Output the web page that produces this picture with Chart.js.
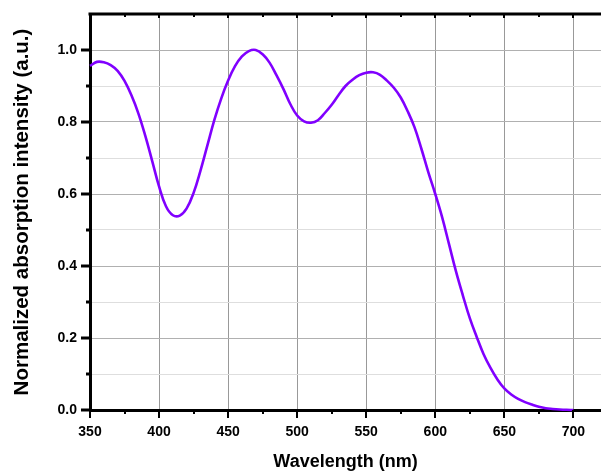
<!DOCTYPE html>
<html>
<head>
<meta charset="utf-8">
<script src="https://cdn.jsdelivr.net/npm/chart.js@4/dist/chart.umd.min.js"></script>
<style>
html,body{margin:0;padding:0;background:#fff;}
#wrap{width:601px;height:473px;}
</style>
</head>
<body>
<div id="wrap"><canvas id="c" width="601" height="473"></canvas></div>
<script>
const wavelengths = [350,355,360,365,370,375,380,385,390,395,400,405,410,415,420,425,430,435,440,445,450,455,460,465,470,475,480,485,490,495,500,505,510,515,520,525,530,535,540,545,550,555,560,565,570,575,580,585,590,595,600,605,610,615,620,625,630,635,640,645,650,655,660,665,670,675,680,685,690,695,700];
const absorbance = [0.956,0.967,0.966,0.958,0.942,0.914,0.874,0.824,0.762,0.692,0.621,0.566,0.541,0.540,0.560,0.603,0.665,0.735,0.805,0.865,0.915,0.955,0.982,0.997,1.000,0.988,0.965,0.930,0.892,0.850,0.818,0.802,0.798,0.805,0.825,0.848,0.875,0.900,0.917,0.930,0.937,0.938,0.931,0.915,0.895,0.868,0.830,0.785,0.725,0.660,0.600,0.535,0.460,0.385,0.318,0.255,0.203,0.155,0.117,0.085,0.060,0.043,0.031,0.022,0.015,0.009,0.005,0.003,0.0015,0.0005,0.0];
const xMinorTicks = [375,425,475,525,575,625,675];
const yMinorTicks = [0.1,0.3,0.5,0.7,0.9];

const FONT = "'Liberation Sans', Arial, sans-serif";

const framePlugin = {
  id: 'frame',
  afterDraw(chart) {
    const ctx = chart.ctx;
    const a = chart.chartArea;
    const xs = chart.scales.x, ys = chart.scales.y;
    ctx.save();
    ctx.strokeStyle = '#000';
    ctx.lineWidth = 3;
    ctx.beginPath();
    ctx.moveTo(a.left - 1.5, a.top);
    ctx.lineTo(a.right, a.top);
    ctx.stroke();
    ctx.lineWidth = 2;
    xs.ticks.forEach(t => {
      const px = Math.round(xs.getPixelForValue(t.value));
      ctx.beginPath(); ctx.moveTo(px, a.bottom); ctx.lineTo(px, a.bottom + 8); ctx.stroke();
      ctx.beginPath(); ctx.moveTo(px, a.top); ctx.lineTo(px, a.top + 4); ctx.stroke();
    });
    xMinorTicks.forEach(v => {
      const px = Math.round(xs.getPixelForValue(v));
      ctx.beginPath(); ctx.moveTo(px, a.bottom); ctx.lineTo(px, a.bottom + 4); ctx.stroke();
      ctx.beginPath(); ctx.moveTo(px, a.top); ctx.lineTo(px, a.top + 3); ctx.stroke();
    });
    ctx.lineWidth = 3;
    ys.ticks.forEach(t => {
      if (Math.round(t.value * 10) % 2 !== 0 || t.value > 1.05) return;
      const py = Math.round(ys.getPixelForValue(t.value));
      ctx.beginPath(); ctx.moveTo(a.left, py); ctx.lineTo(a.left - 9, py); ctx.stroke();
    });
    yMinorTicks.forEach(v => {
      const py = Math.round(ys.getPixelForValue(v));
      ctx.beginPath(); ctx.moveTo(a.left, py); ctx.lineTo(a.left - 4, py); ctx.stroke();
    });
    ctx.restore();
  }
};

new Chart(document.getElementById('c'), {
  type: 'line',
  data: {
    datasets: [{
      data: wavelengths.map((w, i) => ({x: w, y: absorbance[i]})),
      borderColor: '#8000ff',
      borderWidth: 2.6,
      pointRadius: 0,
      fill: false,
      tension: 0.4,
      clip: false
    }]
  },
  options: {
    responsive: false,
    animation: false,
    devicePixelRatio: 1,
    layout: {padding: {top: 14, right: 0, bottom: 0, left: 0}},
    plugins: {legend: {display: false}, tooltip: {enabled: false}},
    scales: {
      x: {
        type: 'linear',
        min: 350, max: 720,
        afterFit(s) { s.height = 63; s.paddingLeft = 0; s.paddingRight = 0; },
        ticks: {
          stepSize: 50, includeBounds: false, autoSkip: false, maxRotation: 0,
          padding: 14, color: '#000',
          font: {family: FONT, size: 14, weight: 'bold'},
          callback: v => String(v)
        },
        grid: {color: '#999', lineWidth: 1, drawTicks: false},
        border: {display: true, color: '#000', width: 3},
        title: {
          display: true, text: 'Wavelength (nm)', color: '#000',
          font: {family: FONT, size: 18, weight: 'bold'},
          padding: {top: 0, bottom: 0}
        }
      },
      y: {
        min: 0, max: 1.1,
        afterFit(s) { s.width = 90; s.paddingTop = 0; s.paddingBottom = 0; },
        ticks: {
          stepSize: 0.1, autoSkip: false, padding: 13, color: '#000',
          font: {family: FONT, size: 14, weight: 'bold'},
          callback: v => (Math.round(v * 10) % 2 === 0 && v < 1.05) ? v.toFixed(1) : ''
        },
        grid: {
          drawTicks: false, lineWidth: 1,
          color: c => (Math.round(c.tick.value * 10) % 2 === 0) ? '#b0b0b0' : '#dedede'
        },
        border: {display: true, color: '#000', width: 3},
        title: {
          display: true, text: 'Normalized absorption intensity (a.u.)', color: '#000',
          font: {family: FONT, size: 20.5, weight: 'bold'},
          padding: {top: 10, bottom: 0}
        }
      }
    }
  },
  plugins: [framePlugin]
});
</script>
</body>
</html>
